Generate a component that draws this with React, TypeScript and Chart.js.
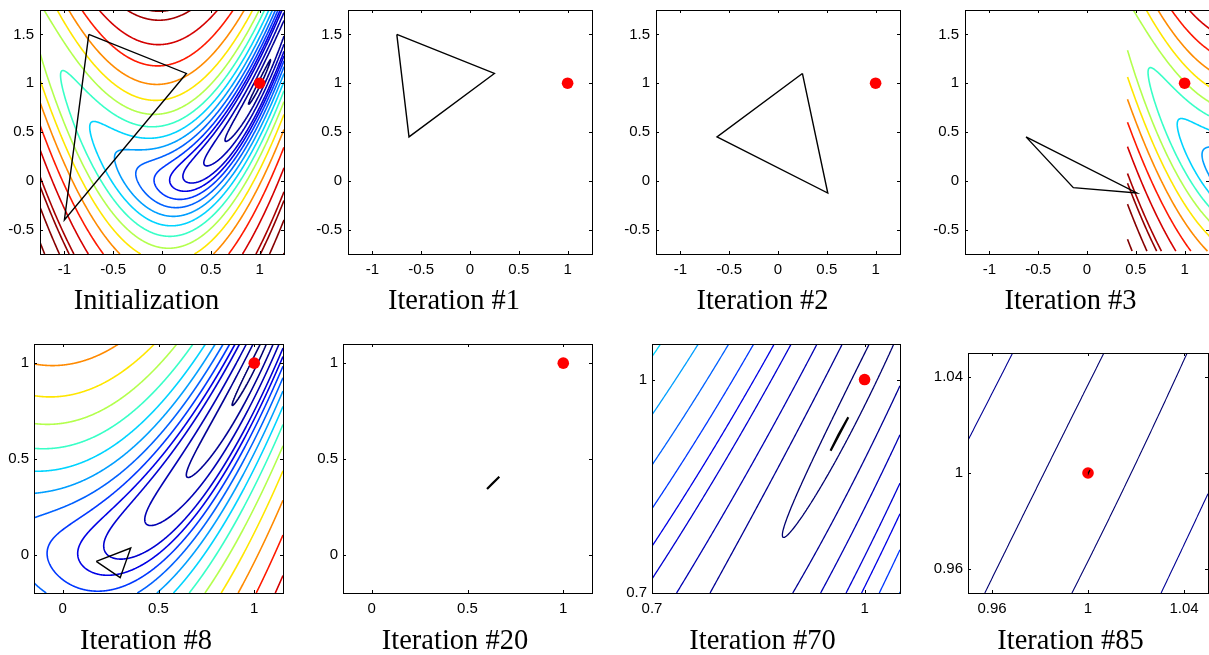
import React, { useEffect, useRef } from 'react';
import { Chart, registerables } from 'chart.js';

Chart.register(...registerables);

// ---------------- data ----------------
// Objective drawn as contours: f(x, y) = (1 - x)^2 + VALLEY_STEEPNESS * (y - x^2)^2
const VALLEY_STEEPNESS = 10;

// contour levels (low -> high)
const CONTOUR_LEVELS = [0.0135, 0.126, 0.327, 0.618, 0.85, 1.17, 1.61, 2.21, 3.03, 4.16, 5.71, 7.85, 10.8, 14.9, 20.5, 28.1, 31.2, 38.6, 53.1];

const TITLES = ['Initialization', 'Iteration #1', 'Iteration #2', 'Iteration #3', 'Iteration #8', 'Iteration #20', 'Iteration #70', 'Iteration #85'];

const MINIMUM_POINT = [{ x: 1, y: 1 }];

const SIMPLEX_INIT = [{ x: -0.75, y: 1.5 }, { x: 0.25, y: 1.1 }, { x: -1, y: -0.4 }];
const SIMPLEX_1 = [{ x: -0.75, y: 1.5 }, { x: 0.25, y: 1.1 }, { x: -0.625, y: 0.45 }];
const SIMPLEX_2 = [{ x: 0.25, y: 1.1 }, { x: -0.625, y: 0.45 }, { x: 0.51, y: -0.125 }];
const SIMPLEX_3 = [{ x: -0.625, y: 0.45 }, { x: -0.14, y: -0.07 }, { x: 0.51, y: -0.125 }];
const SIMPLEX_8 = [{ x: 0.175, y: -0.035 }, { x: 0.355, y: 0.035 }, { x: 0.3, y: -0.12 }];
const SIMPLEX_20 = [{ x: 0.602, y: 0.343 }, { x: 0.666, y: 0.407 }, { x: 0.63, y: 0.372 }];
const SIMPLEX_70 = [{ x: 0.952, y: 0.9 }, { x: 0.977, y: 0.947 }, { x: 0.963, y: 0.922 }];
const SIMPLEX_85 = [{ x: 1.0002, y: 1.0 }, { x: 1.0008, y: 1.0012 }, { x: 1.0004, y: 1.0005 }];

const TICKS_WIDE_X = [-1, -0.5, 0, 0.5, 1];
const LABELS_WIDE_X = ['-1', '-0.5', '0', '0.5', '1'];
const TICKS_WIDE_Y = [-0.5, 0, 0.5, 1, 1.5];
const LABELS_WIDE_Y = ['-0.5', '0', '0.5', '1', '1.5'];
const TICKS_MID = [0, 0.5, 1];
const LABELS_MID = ['0', '0.5', '1'];
const TICKS_NEAR = [0.7, 1];
const LABELS_NEAR = ['0.7', '1'];
const TICKS_CLOSE = [0.96, 1, 1.04];
const LABELS_CLOSE = ['0.96', '1', '1.04'];

// ---------------- styles ----------------
const LEVEL_COLORS = ['#000070', '#000094', '#0000b3', '#0000d1', '#0000e6', '#0038ff', '#0061ff', '#009eff', '#00d4ff', '#38ffc7', '#b3ff4d', '#ffe600', '#ff8a00', '#ff1a00', '#d40000', '#a80000', '#900000', '#860000', '#800000'];

const TICK_FONT = { family: "'Liberation Sans', Arial, Helvetica, sans-serif", size: 15 };
const TITLE_FONT = "28.5px 'Liberation Serif', 'Times New Roman', serif";
const Y_AXIS_W = 50;
const PAD_TOP = 16;
const PAD_RIGHT = 24;
const X_AXIS_H = 72;
const TICK_LEN = 3;

type Pt = { x: number; y: number };
type Grid = { x0: number; x1: number; y0: number; y1: number; nx: number; ny: number; sx: number; sy: number };
type Panel = {
  title: string;
  simplex: Pt[];
  xr: [number, number];
  yr: [number, number];
  xt: number[]; xl: string[];
  yt: number[]; yl: string[];
  grid: Grid | null;
  lw: number; sw: number;
  left: number; top: number; w: number; h: number;
  titleX: number; titleBase: number; yPad: number;
};

const ROW1_TOP = 10, ROW1_H = 244;
const ROW2_TOP = 344, ROW2_H = 249;

const PANELS: Panel[] = [
  { title: TITLES[0], simplex: SIMPLEX_INIT, xr: [-1.25, 1.25], yr: [-0.75, 1.75], xt: TICKS_WIDE_X, xl: LABELS_WIDE_X, yt: TICKS_WIDE_Y, yl: LABELS_WIDE_Y,
    grid: { x0: -1.25, x1: 1.25, y0: -0.75, y1: 1.75, nx: 250, ny: 250, sx: 0, sy: 0 }, lw: 1.6, sw: 1.4,
    left: 40, top: ROW1_TOP, w: 244, h: ROW1_H, titleX: 146.5, titleBase: 309, yPad: 6 },
  { title: TITLES[1], simplex: SIMPLEX_1, xr: [-1.25, 1.25], yr: [-0.75, 1.75], xt: TICKS_WIDE_X, xl: LABELS_WIDE_X, yt: TICKS_WIDE_Y, yl: LABELS_WIDE_Y,
    grid: null, lw: 1.6, sw: 1.4,
    left: 348, top: ROW1_TOP, w: 244, h: ROW1_H, titleX: 454, titleBase: 309, yPad: 6 },
  { title: TITLES[2], simplex: SIMPLEX_2, xr: [-1.25, 1.25], yr: [-0.75, 1.75], xt: TICKS_WIDE_X, xl: LABELS_WIDE_X, yt: TICKS_WIDE_Y, yl: LABELS_WIDE_Y,
    grid: null, lw: 1.6, sw: 1.4,
    left: 656, top: ROW1_TOP, w: 244, h: ROW1_H, titleX: 762.5, titleBase: 309, yPad: 6 },
  { title: TITLES[3], simplex: SIMPLEX_3, xr: [-1.25, 1.25], yr: [-0.75, 1.75], xt: TICKS_WIDE_X, xl: LABELS_WIDE_X, yt: TICKS_WIDE_Y, yl: LABELS_WIDE_Y,
    grid: { x0: -1.25, x1: -0.3, y0: -0.75, y1: 1.75, nx: 96, ny: 250, sx: 1.665, sy: 0.03 }, lw: 1.6, sw: 1.4,
    left: 965, top: ROW1_TOP, w: 244, h: ROW1_H, titleX: 1070.5, titleBase: 309, yPad: 6 },
  { title: TITLES[4], simplex: SIMPLEX_8, xr: [-0.15, 1.15], yr: [-0.2, 1.1], xt: TICKS_MID, xl: LABELS_MID, yt: TICKS_MID, yl: LABELS_MID,
    grid: { x0: -0.15, x1: 1.15, y0: -0.2, y1: 1.1, nx: 250, ny: 250, sx: 0, sy: 0 }, lw: 1.6, sw: 1.4,
    left: 34, top: ROW2_TOP, w: 249, h: ROW2_H, titleX: 146, titleBase: 649, yPad: 5 },
  { title: TITLES[5], simplex: SIMPLEX_20, xr: [-0.15, 1.15], yr: [-0.2, 1.1], xt: TICKS_MID, xl: LABELS_MID, yt: TICKS_MID, yl: LABELS_MID,
    grid: null, lw: 1.6, sw: 2.2,
    left: 343, top: ROW2_TOP, w: 249, h: ROW2_H, titleX: 455, titleBase: 649, yPad: 5 },
  { title: TITLES[6], simplex: SIMPLEX_70, xr: [0.7, 1.05], yr: [0.7, 1.05], xt: TICKS_NEAR, xl: LABELS_NEAR, yt: TICKS_NEAR, yl: LABELS_NEAR,
    grid: { x0: 0.7, x1: 1.05, y0: 0.7, y1: 1.05, nx: 160, ny: 160, sx: 0, sy: 0 }, lw: 1.3, sw: 2.2,
    left: 652, top: ROW2_TOP, w: 248, h: ROW2_H, titleX: 762.5, titleBase: 649, yPad: 5 },
  { title: TITLES[7], simplex: SIMPLEX_85, xr: [0.95, 1.05], yr: [0.95, 1.05], xt: TICKS_CLOSE, xl: LABELS_CLOSE, yt: TICKS_CLOSE, yl: LABELS_CLOSE,
    grid: { x0: 0.95, x1: 1.05, y0: 0.95, y1: 1.05, nx: 120, ny: 120, sx: 0, sy: 0 }, lw: 1.1, sw: 1.2,
    left: 968, top: 353, w: 240, h: 240, titleX: 1070.5, titleBase: 649, yPad: 5 },
];

// ---------------- contour tracing (marching squares) ----------------
function objective(x: number, y: number) {
  const a = 1 - x;
  const b = y - x * x;
  return a * a + VALLEY_STEEPNESS * b * b;
}

function isolines(g: Grid, v: Float64Array, level: number): Pt[][] {
  const { nx, ny, x0, y0 } = g;
  const dx = (g.x1 - g.x0) / (nx - 1);
  const dy = (g.y1 - g.y0) / (ny - 1);
  const adj = new Map<number, number[]>();
  const link = (p: number, q: number) => {
    let lp = adj.get(p); if (!lp) { lp = []; adj.set(p, lp); } lp.push(q);
    let lq = adj.get(q); if (!lq) { lq = []; adj.set(q, lq); } lq.push(p);
  };
  for (let j = 0; j < ny - 1; j++) {
    for (let i = 0; i < nx - 1; i++) {
      const k = j * nx + i;
      const a = v[k], b = v[k + 1], c = v[k + nx + 1], d = v[k + nx];
      const A = a > level, B = b > level, C = c > level, D = d > level;
      const eB = 2 * k, eR = 2 * (k + 1) + 1, eT = 2 * (k + nx), eL = 2 * k + 1;
      const cross: number[] = [];
      if (A !== B) cross.push(eB);
      if (B !== C) cross.push(eR);
      if (C !== D) cross.push(eT);
      if (D !== A) cross.push(eL);
      if (cross.length === 2) link(cross[0], cross[1]);
      else if (cross.length === 4) {
        const center = (a + b + c + d) / 4 > level;
        if (A === center) { link(eB, eR); link(eT, eL); } else { link(eL, eB); link(eR, eT); }
      }
    }
  }
  const pointOf = (e: number): Pt => {
    const k = e >> 1;
    const i = k % nx;
    const j = (k - i) / nx;
    const v1 = v[k];
    if ((e & 1) === 0) {
      const t = (level - v1) / (v[k + 1] - v1);
      return { x: x0 + (i + t) * dx + g.sx, y: y0 + j * dy + g.sy };
    }
    const t = (level - v1) / (v[k + nx] - v1);
    return { x: x0 + i * dx + g.sx, y: y0 + (j + t) * dy + g.sy };
  };
  const seen = new Set<number>();
  const lines: Pt[][] = [];
  const walk = (start: number) => {
    const ids = [start];
    seen.add(start);
    let cur = start;
    for (;;) {
      const nb = adj.get(cur)!;
      let next = -1;
      for (const n of nb) if (!seen.has(n)) { next = n; break; }
      if (next < 0) { if (ids.length > 2 && nb.includes(start)) ids.push(start); break; }
      ids.push(next); seen.add(next); cur = next;
    }
    return ids.map(pointOf);
  };
  adj.forEach((nb, id) => { if (nb.length === 1 && !seen.has(id)) lines.push(walk(id)); });
  adj.forEach((_nb, id) => { if (!seen.has(id)) lines.push(walk(id)); });
  return lines.filter((l) => l.length > 1);
}

function buildDatasets(p: Panel) {
  const ds: any[] = [];
  ds.push({
    data: [...p.simplex, p.simplex[0]], showLine: true, borderColor: '#000', borderWidth: p.sw,
    pointRadius: 0, fill: false, tension: 0, order: 0, borderJoinStyle: 'miter',
  });
  ds.push({
    data: MINIMUM_POINT, showLine: false, pointRadius: 5.8, pointBackgroundColor: '#ff0000',
    pointBorderWidth: 0, pointBorderColor: '#ff0000', order: 1,
  });
  if (p.grid) {
    const g = p.grid;
    const dx = (g.x1 - g.x0) / (g.nx - 1);
    const dy = (g.y1 - g.y0) / (g.ny - 1);
    const v = new Float64Array(g.nx * g.ny);
    for (let j = 0; j < g.ny; j++) for (let i = 0; i < g.nx; i++) v[j * g.nx + i] = objective(g.x0 + i * dx, g.y0 + j * dy);
    CONTOUR_LEVELS.forEach((level, idx) => {
      for (const line of isolines(g, v, level)) {
        ds.push({
          data: line, showLine: true, borderColor: LEVEL_COLORS[idx], borderWidth: p.lw,
          pointRadius: 0, fill: false, tension: 0.01, order: 2,
        });
      }
    });
  }
  return ds;
}

const framePlugin = {
  id: 'frameTicks',
  afterDatasetsDraw(chart: any) {
    const { ctx, chartArea } = chart;
    const { left, right, top, bottom } = chartArea;
    const xs = chart.scales.x;
    const ys = chart.scales.y;
    ctx.save();
    ctx.strokeStyle = '#000';
    ctx.lineWidth = 1;
    ctx.beginPath();
    for (const t of xs.ticks) {
      const px = Math.round(xs.getPixelForValue(t.value)) + 0.5;
      ctx.moveTo(px, bottom); ctx.lineTo(px, bottom - TICK_LEN);
      ctx.moveTo(px, top); ctx.lineTo(px, top + TICK_LEN);
    }
    for (const t of ys.ticks) {
      const py = Math.round(ys.getPixelForValue(t.value)) + 0.5;
      ctx.moveTo(left, py); ctx.lineTo(left + TICK_LEN, py);
      ctx.moveTo(right, py); ctx.lineTo(right - TICK_LEN, py);
    }
    ctx.stroke();
    ctx.strokeRect(left + 0.5, top + 0.5, right - left, bottom - top);
    ctx.restore();
  },
};

function PanelChart({ p }: { p: Panel }) {
  const ref = useRef<HTMLCanvasElement>(null);
  const cLeft = p.left - Y_AXIS_W;
  const cTop = p.top - PAD_TOP;
  const W = Y_AXIS_W + p.w + PAD_RIGHT;
  const H = PAD_TOP + p.h + X_AXIS_H;

  useEffect(() => {
    const canvas = ref.current;
    if (!canvas) return;
    const titlePlugin = {
      id: 'panelTitle',
      afterDraw(chart: any) {
        const { ctx } = chart;
        ctx.save();
        ctx.font = TITLE_FONT;
        ctx.fillStyle = '#000';
        ctx.textAlign = 'center';
        ctx.textBaseline = 'alphabetic';
        ctx.fillText(p.title, p.titleX - cLeft, p.titleBase - cTop);
        ctx.restore();
      },
    };
    const chart = new Chart(canvas, {
      type: 'scatter',
      data: { datasets: buildDatasets(p) },
      options: {
        animation: false,
        responsive: false,
        maintainAspectRatio: false,
        devicePixelRatio: 1,
        events: [],
        parsing: false,
        normalized: true,
        layout: { padding: { left: 0, top: PAD_TOP, right: PAD_RIGHT, bottom: 0 } },
        plugins: { legend: { display: false }, tooltip: { enabled: false }, title: { display: false } },
        scales: {
          x: {
            type: 'linear', position: 'bottom', min: p.xr[0], max: p.xr[1],
            grid: { display: false, drawTicks: false }, border: { display: false },
            ticks: { autoSkip: false, padding: 7, maxRotation: 0, font: TICK_FONT, color: '#000', callback: (_v: any, i: number) => p.xl[i] },
            afterBuildTicks: (s: any) => { s.ticks = p.xt.map((value) => ({ value })); },
            afterFit: (s: any) => { s.height = X_AXIS_H; },
          },
          y: {
            type: 'linear', position: 'left', min: p.yr[0], max: p.yr[1],
            grid: { display: false, drawTicks: false }, border: { display: false },
            ticks: { autoSkip: false, padding: p.yPad, font: TICK_FONT, color: '#000', callback: (_v: any, i: number) => p.yl[i] },
            afterBuildTicks: (s: any) => { s.ticks = p.yt.map((value) => ({ value })); },
            afterFit: (s: any) => { s.width = Y_AXIS_W; },
          },
        },
      } as any,
      plugins: [framePlugin, titlePlugin],
    });
    return () => chart.destroy();
  }, []);

  return (
    <canvas
      ref={ref}
      width={W}
      height={H}
      style={{ position: 'absolute', left: cLeft, top: cTop, width: W, height: H }}
    />
  );
}

export default function App() {
  return (
    <div style={{ position: 'absolute', left: 0, top: 0, width: 1209, height: 655, overflow: 'hidden', background: '#fff' }}>
      {PANELS.map((p, i) => (
        <PanelChart key={i} p={p} />
      ))}
    </div>
  );
}
